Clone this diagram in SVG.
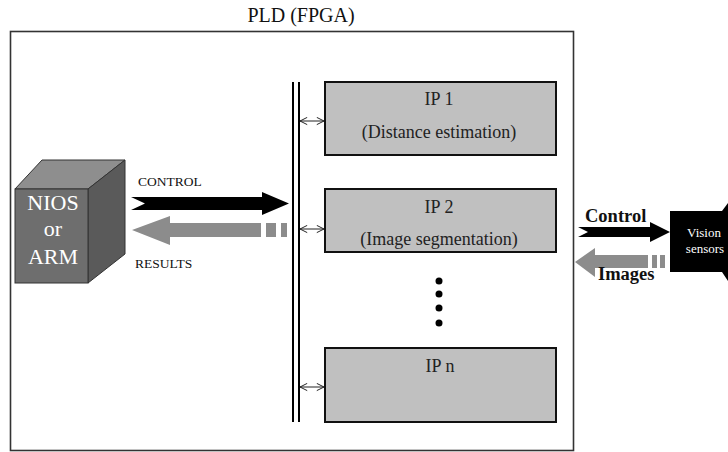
<svg xmlns="http://www.w3.org/2000/svg" width="728" height="452" viewBox="0 0 728 452">
  <defs>
    <style>
      .serif { font-family: "Liberation Serif", "Times New Roman", serif; }
      .ipbox { fill: #c0c0c0; stroke: #111; stroke-width: 2; }
      .iptext { font-family: "Liberation Serif", "Times New Roman", serif; font-size: 18px; fill: #222; text-anchor: middle; }
      .link { fill: none; stroke: #222; stroke-width: 1; marker-start: url(#openhead); marker-end: url(#openhead); }
      .cubetext { font-family: "Liberation Serif", "Times New Roman", serif; font-size: 22px; fill: #ffffff; text-anchor: middle; }
      .lbl { font-family: "Liberation Serif", "Times New Roman", serif; font-size: 13.5px; fill: #111; }
      .lblbold { font-family: "Liberation Serif", "Times New Roman", serif; font-size: 18.5px; font-weight: bold; fill: #111; }
      .black { fill: #000; }
      .gray { fill: #8c8c8c; }
    </style>
    <marker id="openhead" viewBox="0 0 10 10" refX="9" refY="5" markerWidth="9" markerHeight="9" orient="auto-start-reverse" markerUnits="userSpaceOnUse">
      <path d="M1,1 L9,5 L1,9" fill="none" stroke="#222" stroke-width="1.1"/>
    </marker>
  </defs>

  <rect width="728" height="452" fill="#ffffff"/>

  <!-- FPGA boundary -->
  <g id="pld">
    <text class="serif" x="301" y="22" font-size="20" text-anchor="middle" fill="#111">PLD (FPGA)</text>
    <rect x="10.5" y="31.5" width="563" height="419" fill="none" stroke="#333" stroke-width="1.6"/>
  </g>

  <!-- Processor cube -->
  <g id="cpu">
    <polygon points="15,189 42,160 125,160 88,189" fill="#8e8e8e" stroke="#333" stroke-width="1"/>
    <polygon points="88,189 125,160 125,254 88,283" fill="#5a5a5a" stroke="#333" stroke-width="1"/>
    <rect x="15" y="189" width="73" height="94" fill="#6e6e6e" stroke="#333" stroke-width="1"/>
    <text class="cubetext" x="53" y="210">NIOS</text>
    <text class="cubetext" x="53" y="236">or</text>
    <text class="cubetext" x="53" y="264">ARM</text>
  </g>

  <!-- Bus -->
  <g id="bus">
    <line x1="293" y1="82" x2="293" y2="422" stroke="#000" stroke-width="2"/>
    <line x1="299" y1="82" x2="299" y2="422" stroke="#000" stroke-width="2"/>
  </g>

  <!-- IP cores -->
  <g id="ip1">
    <rect class="ipbox" x="325" y="82" width="231" height="73"/>
    <text class="iptext" x="439" y="105">IP 1</text>
    <text class="iptext" x="439" y="138">(Distance estimation)</text>
  </g>
  <g id="ip2">
    <rect class="ipbox" x="325" y="189" width="231" height="63"/>
    <text class="iptext" x="439" y="213">IP 2</text>
    <text class="iptext" x="439" y="245">(Image segmentation)</text>
  </g>
  <g id="ellipsis">
    <circle cx="439" cy="281" r="3.5" fill="#000"/>
    <circle cx="439" cy="294" r="3.5" fill="#000"/>
    <circle cx="439" cy="308" r="3.5" fill="#000"/>
    <circle cx="439" cy="323" r="3.5" fill="#000"/>
  </g>
  <g id="ipn">
    <rect class="ipbox" x="325" y="348" width="231" height="74"/>
    <text class="iptext" x="440" y="372">IP n</text>
  </g>

  <!-- Vision sensors -->
  <g id="sensors">
    <polygon points="670,211 722,211 728,203 728,281 722,272 670,272" fill="#000"/>
    <text class="serif" x="704" y="237" font-size="13" fill="#fff" text-anchor="middle">Vision</text>
    <text class="serif" x="705" y="253" font-size="13" fill="#fff" text-anchor="middle">sensors</text>
  </g>

  <!-- Connectors -->
  <g id="connectors">
    <!-- bus to IP links -->
    <line class="link" x1="300" y1="121" x2="324" y2="121"/>
    <line class="link" x1="300" y1="229" x2="324" y2="229"/>
    <line class="link" x1="300" y1="387" x2="324" y2="387"/>

    <!-- CPU control out -->
    <polygon class="black" points="131,197 262,197 262,192 289,203.5 262,215 262,210 131,210 145,203.5"/>
    <text class="lbl" x="138" y="186">CONTROL</text>
    <!-- results back to CPU -->
    <polygon class="gray" points="132,230 170,216 170,223 261,223 261,237 170,237 170,245"/>
    <rect class="gray" x="266" y="223" width="10" height="14"/>
    <rect class="gray" x="281" y="223" width="6" height="14"/>
    <text class="lbl" x="135" y="268">RESULTS</text>

    <!-- sensor control -->
    <polygon class="black" points="578,227 650,227 650,222 670,232 650,242 650,237 578,237 588,232"/>
    <text class="lblbold" x="585" y="222">Control</text>
    <!-- images from sensors -->
    <polygon class="gray" points="575,262 595,248 595,255 648,255 648,268 595,268 595,277"/>
    <rect class="gray" x="652" y="255" width="5" height="13"/>
    <rect class="gray" x="660" y="255" width="5" height="13"/>
    <text class="lblbold" x="598" y="280">Images</text>
  </g>
</svg>
